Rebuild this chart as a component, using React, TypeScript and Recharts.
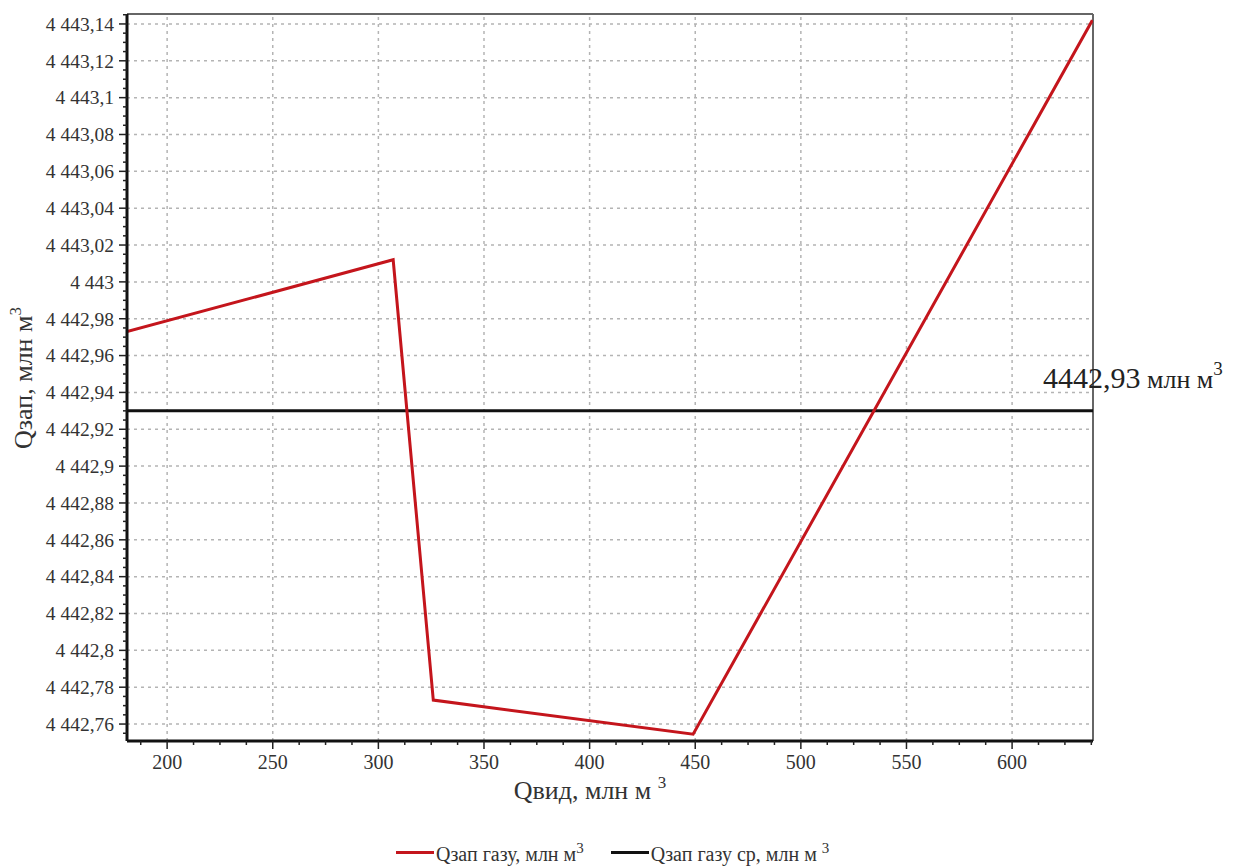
import React from "react";
import { LineChart, Line, XAxis, YAxis, ReferenceLine } from "recharts";

// Qвид, млн м3 (x) vs Qзап газу, млн м3 (y)
const qVyd = [181, 307, 326, 449, 638];
const qZap = [4442.973, 4443.012, 4442.773, 4442.7545, 4443.142];
const qZapMean = 4442.93;

const xTicks = [200, 250, 300, 350, 400, 450, 500, 550, 600];
const yTicks = [
  4442.76, 4442.78, 4442.8, 4442.82, 4442.84, 4442.86, 4442.88, 4442.9, 4442.92,
  4442.94, 4442.96, 4442.98, 4443, 4443.02, 4443.04, 4443.06, 4443.08, 4443.1,
  4443.12, 4443.14,
];

const xDomain = [181, 638.3];
const yDomain = [4442.7508, 4443.1454];

const data = qVyd.map((x, i) => ({ x, y: qZap[i] }));

// minor ticks: 4 per major interval
const xMinor: number[] = [];
for (let v = 187.5; v <= 638; v += 12.5) xMinor.push(v);
const yMinor: number[] = [];
for (let k = 0; k <= 78; k++) yMinor.push(Math.round((4442.755 + k * 0.005) * 1000) / 1000);

const FONT = "'Liberation Serif', 'Times New Roman', serif";

const isMajor = (list: number[], v: number) => list.some((t) => Math.abs(t - v) < 1e-6);

const fmtY = (v: number) => {
  const s = v.toFixed(2).replace(/0+$/, "").replace(/\.$/, "");
  const [i, d] = s.split(".");
  const ii = i.replace(/\B(?=(\d{3})+(?!\d))/g, " ");
  return d ? ii + "," + d : ii;
};

const XTick = (props: any) => {
  const { x, y, payload } = props;
  const major = isMajor(xTicks, payload.value);
  const axisY = y - 14;
  return (
    <g>
      <line x1={x} x2={x} y1={axisY} y2={axisY + (major ? 8 : 4)} stroke="#222" strokeWidth={1.5} />
      {major && (
        <text
          x={x}
          y={y}
          dy="0.71em"
          textAnchor="middle"
          style={{ fontFamily: FONT, fontSize: 20 }}
          fill="#333"
        >
          {payload.value}
        </text>
      )}
    </g>
  );
};

const YTick = (props: any) => {
  const { x, y, payload } = props;
  const major = isMajor(yTicks, payload.value);
  const axisX = x + 13;
  return (
    <g>
      <line x1={axisX - (major ? 8 : 4)} x2={axisX} y1={y} y2={y} stroke="#222" strokeWidth={1.5} />
      {major && (
        <text
          x={x}
          y={y}
          dy="0.35em"
          textAnchor="end"
          style={{ fontFamily: FONT, fontSize: 19.5 }}
          fill="#333"
        >
          {fmtY(payload.value)}
        </text>
      )}
    </g>
  );
};

const MeanLabel = (props: any) => {
  const vb = props.viewBox;
  return (
    <text x={vb.x + vb.width - 50} y={vb.y - 23} style={{ fontFamily: FONT, fontSize: 30 }} fill="#222">
      {qZapMean.toFixed(2).replace(".", ",")}
      <tspan style={{ fontSize: 26 }}> млн м</tspan>
      <tspan dy={-13} style={{ fontSize: 19 }}>3</tspan>
    </text>
  );
};

const XTitle = (props: any) => {
  const vb = props.viewBox;
  return (
    <text
      x={vb.x + vb.width / 2 - 20}
      y={vb.y + 58}
      textAnchor="middle"
      style={{ fontFamily: FONT, fontSize: 26 }}
      fill="#333"
    >
      Qвид, млн м <tspan dy={-11} style={{ fontSize: 17 }}>3</tspan>
    </text>
  );
};

const YTitle = () => (
  <text
    x={32}
    y={378}
    transform="rotate(-90 32 378)"
    textAnchor="middle"
    style={{ fontFamily: FONT, fontSize: 26 }}
    fill="#333"
  >
    Qзап, млн м<tspan dy={-11} style={{ fontSize: 17 }}>3</tspan>
  </text>
);

const LegendItem = ({ color, text }: { color: string; text: string }) => (
  <div style={{ display: "flex", alignItems: "center", marginRight: 27 }}>
    <span style={{ display: "inline-block", width: 38, height: 3, background: color, marginRight: 2 }} />
    <span style={{ fontFamily: FONT, fontSize: 20, color: "#333" }}>
      {text}
      <sup style={{ fontSize: 15 }}>3</sup>
    </span>
  </div>
);

export default function App() {
  return (
    <div style={{ position: "absolute", left: 0, top: 0, width: 1237, height: 868, background: "#fff" }}>
      <LineChart width={1237} height={868} data={data} margin={{ top: 14, right: 144, bottom: 0, left: 0 }}>
        <XAxis
          dataKey="x"
          type="number"
          domain={xDomain}
          allowDataOverflow
          ticks={[...xMinor]}
          interval={0}
          height={127}
          tickSize={8}
          tickMargin={6}
          tickLine={false}
          tick={<XTick />}
          axisLine={{ stroke: "#111", strokeWidth: 3 }}
          label={{ content: <XTitle /> }}
        />
        <YAxis
          type="number"
          domain={yDomain}
          allowDataOverflow
          ticks={yMinor}
          interval={0}
          width={127}
          tickSize={8}
          tickMargin={5}
          tickLine={false}
          tick={<YTick />}
          axisLine={{ stroke: "#111", strokeWidth: 3 }}
        />
        {xTicks.map((t) => (
          <ReferenceLine key={"gx" + t} x={t} stroke="#b4b4b4" strokeWidth={1.5} strokeDasharray="3 4" />
        ))}
        {yTicks.map((t) => (
          <ReferenceLine key={"gy" + t} y={t} stroke="#b4b4b4" strokeWidth={1.5} strokeDasharray="3 4" />
        ))}
        <ReferenceLine y={yDomain[1]} stroke="#666" strokeWidth={2} />
        <ReferenceLine x={xDomain[1]} stroke="#666" strokeWidth={2} />
        <ReferenceLine y={qZapMean} stroke="#111" strokeWidth={3} label={<MeanLabel />} />
        <Line
          type="linear"
          dataKey="y"
          stroke="#c4151c"
          strokeWidth={3}
          dot={false}
          isAnimationActive={false}
        />
        <YTitle />
      </LineChart>
      <div style={{ position: "absolute", left: 396, top: 840, display: "flex", alignItems: "center" }}>
        <LegendItem color="#c4151c" text="Qзап газу, млн м" />
        <LegendItem color="#111" text="Qзап газу ср, млн м " />
      </div>
    </div>
  );
}
